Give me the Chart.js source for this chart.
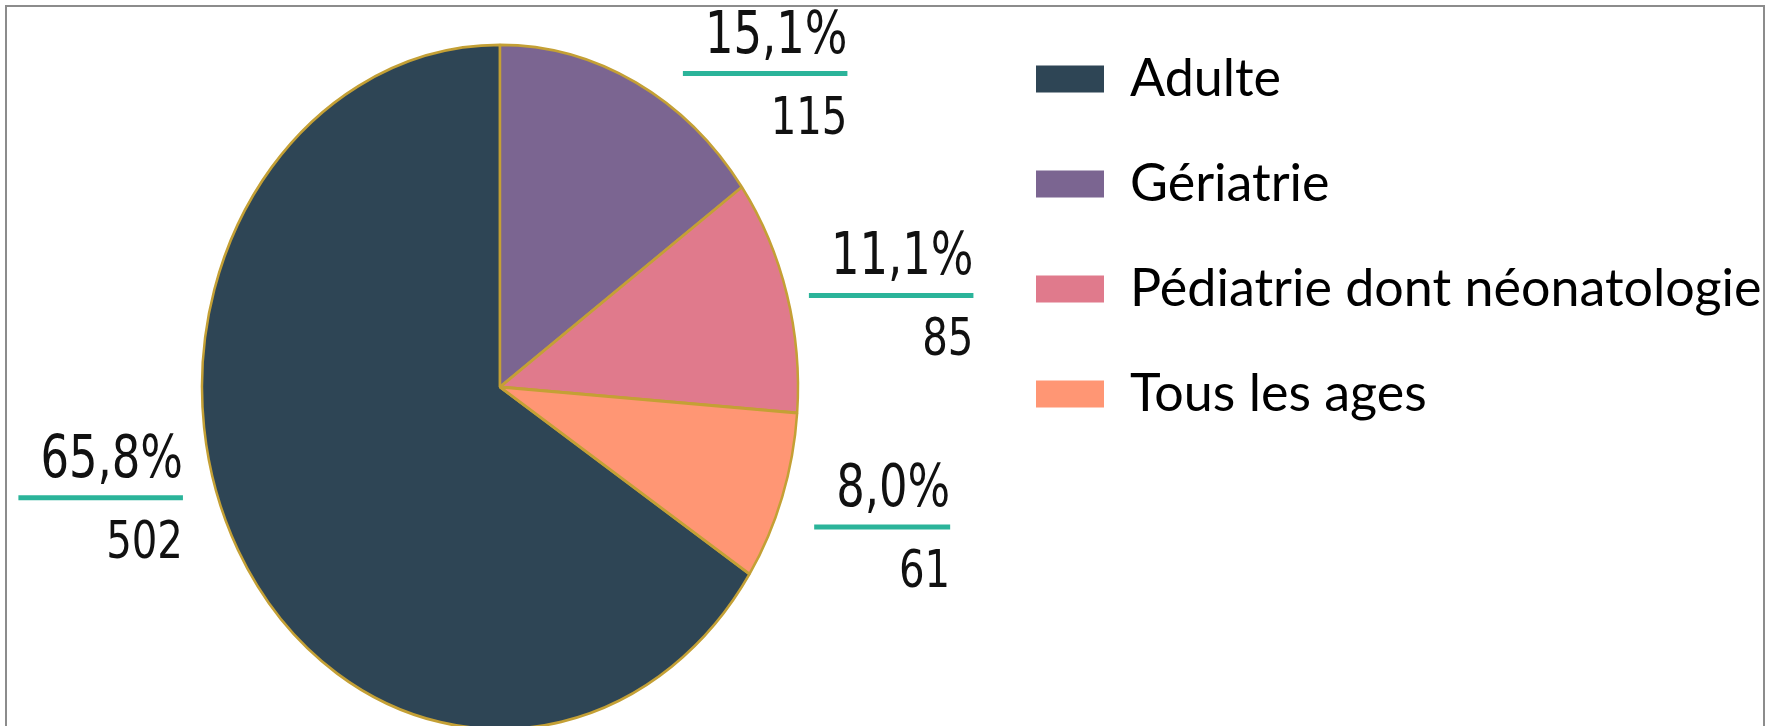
<!DOCTYPE html>
<html>
<head>
<meta charset="utf-8">
<script src="https://cdn.jsdelivr.net/npm/chart.js@4.4.1/dist/chart.umd.min.js"></script>
<style>
  body { margin: 0; background: #fff; }
  #wrap { position: absolute; left: 0; top: 0; width: 1763px; height: 726px; overflow: hidden; }
  #frame { position: absolute; left: 5px; top: 5px; width: 1756px; height: 780px; border: 2px solid #8c8c8c; pointer-events: none; }
</style>
</head>
<body>
<div id="wrap"><canvas id="pieChart" width="1769" height="726"></canvas></div>
<div id="frame"></div>
<script>
// data
const categories = ['Adulte', 'Gériatrie', 'Pédiatrie dont néonatologie', 'Tous les ages'];
const counts = [502, 115, 85, 61];
const colors = ['#2e4555', '#7b6591', '#e07a8c', '#ff9674'];

// layout tweaks for the outside labels, [dx, dy] from the slice edge
const labelNudge = [[55, -52], [47, -9], [22, 1], [32, 30]];

const total = counts.reduce((a, b) => a + b, 0);
const stretchY = 1.148; // the pie is drawn as an ellipse, taller than wide
const pieTop = 48;      // top padding that puts the pie center where the reference has it
const narrow = 0.86;    // the label font in the original is condensed

const pctText = v => (v / total * 100).toFixed(1).replace('.', ',') + '%';

// squash the circle into an ellipse around the pie center
const ellipsePlugin = {
    id: 'ellipse',
    beforeDatasetsDraw(chart) {
        const el = chart.getDatasetMeta(0).data[0];
        const ctx = chart.ctx;
        ctx.save();
        ctx.translate(el.x, el.y);
        ctx.scale(1, stretchY);
        ctx.translate(-el.x, -el.y);
    },
    afterDatasetsDraw(chart) {
        chart.ctx.restore();
    }
};

// right-aligned text squeezed horizontally
function narrowText(ctx, text, x, y) {
    ctx.save();
    ctx.translate(x, y);
    ctx.scale(narrow, 1);
    ctx.fillText(text, 0, 0);
    ctx.restore();
}

// percentage / underline / count next to each slice
const sliceLabels = {
    id: 'sliceLabels',
    afterDraw(chart) {
        const ctx = chart.ctx;
        const pctFont = '58px "Liberation Sans Narrow", "DejaVu Sans Condensed", Roboto, sans-serif';
        const cntFont = '52px "Liberation Sans Narrow", "DejaVu Sans Condensed", Roboto, sans-serif';
        chart.getDatasetMeta(0).data.forEach((arc, i) => {
            const mid = (arc.startAngle + arc.endAngle) / 2;
            const px = arc.x + arc.outerRadius * Math.cos(mid);
            const py = arc.y + arc.outerRadius * stretchY * Math.sin(mid);
            const right = Math.cos(mid) >= 0;
            const pct = pctText(counts[i]);
            ctx.save();
            ctx.font = pctFont;
            const w = ctx.measureText(pct).width * narrow + 22;
            const lineY = py + labelNudge[i][1];
            let x0, x1;
            if (right) {
                x0 = px + labelNudge[i][0];
                x1 = x0 + w;
            } else {
                x1 = px - labelNudge[i][0];
                x0 = x1 - w;
            }
            ctx.strokeStyle = '#2bb49a';
            ctx.lineWidth = 5;
            ctx.beginPath();
            ctx.moveTo(x0, lineY);
            ctx.lineTo(x1, lineY);
            ctx.stroke();
            ctx.fillStyle = '#111';
            ctx.textAlign = 'right';
            ctx.textBaseline = 'alphabetic';
            narrowText(ctx, pct, x1, lineY - 21);
            ctx.font = cntFont;
            narrowText(ctx, String(counts[i]), x1, lineY + 60);
            ctx.restore();
        });
    }
};

// fix the legend width so the pie sits where it should,
// and keep the legend at the top while the pie is pushed down
const legendPlace = {
    id: 'legendPlace',
    beforeInit(chart) {
        const fit = chart.legend.fit;
        chart.legend.fit = function () {
            fit.bind(this)();
            this.width = 786;
        };
    },
    afterLayout(chart) {
        chart.legend.top -= pieTop;
        chart.legend.bottom -= pieTop;
    }
};

const pieChart = new Chart(document.getElementById('pieChart').getContext('2d'), {
    type: 'pie',
    data: {
        labels: categories,
        datasets: [{
            data: counts,
            backgroundColor: colors,
            borderColor: '#c4a035',
            borderWidth: 2.5,
            radius: 298,
            clip: false
        }]
    },
    options: {
        responsive: false,
        animation: false,
        rotation: 360 * (total - counts[0]) / total, // Adulte ends at 12 o'clock
        layout: { padding: { left: 17, right: 0, top: pieTop, bottom: 0 } },
        plugins: {
            tooltip: { enabled: false },
            legend: {
                position: 'right',
                align: 'start',
                labels: {
                    boxWidth: 68,
                    boxHeight: 27,
                    padding: 53,
                    color: '#111',
                    font: { family: 'Lato', size: 52 },
                    generateLabels: () => categories.map((c, i) => ({
                        text: c,
                        fillStyle: colors[i],
                        strokeStyle: colors[i],
                        lineWidth: 0,
                        hidden: false,
                        index: i
                    }))
                }
            }
        }
    },
    plugins: [legendPlace, ellipsePlugin, sliceLabels]
});
</script>
</body>
</html>
